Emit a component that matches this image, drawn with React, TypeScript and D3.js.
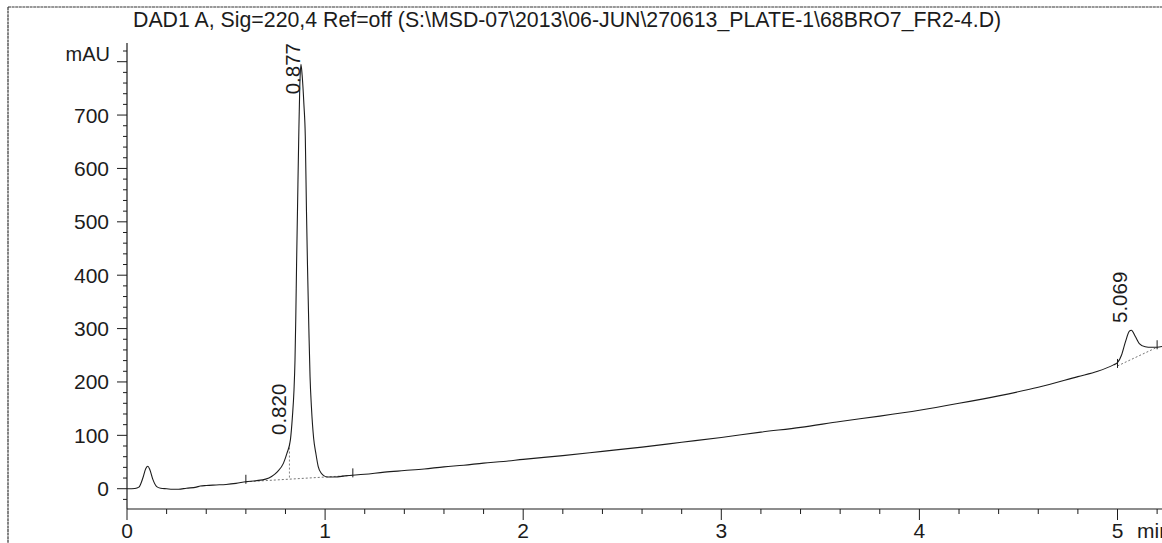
import React from "react";
import * as d3 from "d3";

const title = "DAD1 A, Sig=220,4 Ref=off (S:\\MSD-07\\2013\\06-JUN\\270613_PLATE-1\\68BRO7_FR2-4.D)";

const times = [
  0.0, 0.04, 0.06, 0.08, 0.095, 0.105, 0.115, 0.13, 0.15, 0.17, 0.2, 0.23, 0.26, 0.3, 0.35, 0.37, 0.4, 0.45,
  0.5, 0.55, 0.6, 0.65, 0.7, 0.73, 0.76, 0.79, 0.808, 0.825, 0.835, 0.843, 0.848, 0.852, 0.856, 0.861, 0.867,
  0.872, 0.878, 0.884, 0.893, 0.9, 0.906, 0.911, 0.918, 0.924, 0.931, 0.942, 0.953, 0.965, 0.981, 0.995, 1.01,
  1.05, 1.1, 1.2, 1.3, 1.4, 1.5, 1.6, 1.7, 1.8, 1.9, 2.0, 2.2, 2.4, 2.6, 2.8, 3.0, 3.2, 3.4, 3.6, 3.8, 4.0,
  4.2, 4.4, 4.6, 4.8, 4.9, 4.98, 5.0, 5.02, 5.04, 5.06, 5.07, 5.09, 5.11, 5.14, 5.17, 5.2, 5.23,
];
const signal = [
  0, 0.5, 3, 20, 38, 42, 36, 18, 4, 1, 0, -1, -1, 1, 3, 5, 6, 7,
  8, 10, 13, 15, 18, 23, 32, 48, 67, 92, 135, 185, 240, 320, 420, 530, 660,
  750, 795, 775, 720, 660, 520, 420, 300, 210, 153, 95, 67, 42, 29, 24, 22,
  22, 24, 27, 31, 34, 37, 41, 44, 48, 51, 55, 62, 70, 78, 87, 96, 106, 115, 126, 136, 147,
  160, 174, 190, 210, 220, 232, 236, 250, 275, 295, 297, 285, 272, 266, 265, 265, 267,
];

const peakLabels = ["0.877", "0.820", "5.069"];
const peakTimes = [0.877, 0.82, 5.069];

// integration baselines
const baseStartT = [0.6, 5.0];
const baseStartV = [13, 230];
const baseEndT = [1.14, 5.2];
const baseEndV = [25, 265];
const dropT = [0.82];

const xMajor = [0, 1, 2, 3, 4, 5];
const yMajor = [0, 100, 200, 300, 400, 500, 600, 700];

export default function App() {
  const W = 1162;
  const H = 543;
  const x = d3.scaleLinear().domain([0, 5.23]).range([127, 127 + 5.23 * 198.1]);
  const y = d3.scaleLinear().domain([-38, 835]).range([509, 43]);
  const font = "'Liberation Sans', Arial, sans-serif";
  const pts: [number, number][] = times.map((t, i) => [t, signal[i]]);
  const line = d3
    .line<[number, number]>()
    .x((d) => x(d[0]))
    .y((d) => y(d[1]))
    .curve(d3.curveMonotoneX);
  const interp = (t: number) => {
    const i = d3.bisector((d: number) => d).left(times, t);
    if (i <= 0) return signal[0];
    if (i >= times.length) return signal[signal.length - 1];
    const t0 = times[i - 1], t1 = times[i];
    return signal[i - 1] + ((signal[i] - signal[i - 1]) * (t - t0)) / (t1 - t0);
  };

  const xMinor = d3.range(0, 5.21, 0.2).filter((v) => Math.abs(v - Math.round(v)) > 0.01);
  const yMinor = d3.range(-20, 830, 20).filter((v) => v % 100 !== 0);
  const ink = "#1c1c1c";

  const labelPos = [
    { anchor: "end", xx: x(0.877) - 1, yy: 43 },
    { anchor: "start", xx: x(0.82) - 3, yy: 435 },
    { anchor: "start", xx: x(5.069) - 4, yy: 323 },
  ];

  return (
    <svg
      width={W}
      height={H}
      style={{ position: "absolute", left: 0, top: 0, background: "#fff" }}
      fontFamily={font}
    >
      {/* frame */}
      <line x1={8} y1={7} x2={W} y2={7} stroke="#333" strokeWidth={1.2} strokeDasharray="3 0.6" />
      <line x1={8} y1={7} x2={8} y2={H} stroke="#333" strokeWidth={1.2} strokeDasharray="3 0.6" />
      <text x={133} y={27} fontSize={21.3} fill={ink}>
        {title}
      </text>

      {/* y axis */}
      <line x1={127} y1={43} x2={127} y2={509} stroke={ink} strokeWidth={1.2} />
      {[...yMajor, 800].map((v) => (
        <line key={"ym" + v} x1={117} x2={127} y1={y(v)} y2={y(v)} stroke={ink} strokeWidth={1} />
      ))}
      {yMinor.map((v) => (
        <line key={"yn" + v} x1={123} x2={127} y1={y(v)} y2={y(v)} stroke={ink} strokeWidth={1} />
      ))}
      {yMajor.map((v) => (
        <text key={"yl" + v} x={109} y={y(v) + 7.5} fontSize={21} textAnchor="end" fill={ink}>
          {v}
        </text>
      ))}
      <text x={110} y={61} fontSize={20} textAnchor="end" fill={ink}>
        mAU
      </text>

      {/* x axis */}
      <line x1={127} y1={509} x2={W} y2={509} stroke={ink} strokeWidth={1.2} />
      {xMajor.map((v) => (
        <line key={"xm" + v} x1={x(v)} x2={x(v)} y1={509} y2={520} stroke={ink} strokeWidth={1} />
      ))}
      {xMinor.map((v) => (
        <line key={"xn" + v} x1={x(v)} x2={x(v)} y1={509} y2={514} stroke={ink} strokeWidth={1} />
      ))}
      {xMajor.map((v) => (
        <text key={"xl" + v} x={x(v)} y={538} fontSize={21} textAnchor="middle" fill={ink}>
          {v}
        </text>
      ))}
      <text x={1137} y={538} fontSize={21} fill={ink}>
        min
      </text>

      {/* integration baselines */}
      {baseStartT.map((t0, i) => (
        <g key={"b" + i}>
          <line
            x1={x(t0)}
            y1={y(baseStartV[i])}
            x2={x(baseEndT[i])}
            y2={y(baseEndV[i])}
            stroke="#666"
            strokeWidth={0.9}
            strokeDasharray="2 2"
          />
          <line x1={x(t0)} x2={x(t0)} y1={y(baseStartV[i]) - 7} y2={y(baseStartV[i]) + 2} stroke={ink} strokeWidth={1} />
          <line
            x1={x(baseEndT[i])}
            x2={x(baseEndT[i])}
            y1={y(baseEndV[i]) - 7}
            y2={y(baseEndV[i]) + 2}
            stroke={ink}
            strokeWidth={1}
          />
        </g>
      ))}
      {dropT.map((t) => {
        const bv = baseStartV[0] + ((baseEndV[0] - baseStartV[0]) * (t - baseStartT[0])) / (baseEndT[0] - baseStartT[0]);
        return (
          <line
            key={"d" + t}
            x1={x(t)}
            x2={x(t)}
            y1={y(interp(t))}
            y2={y(bv)}
            stroke="#777"
            strokeWidth={0.9}
            strokeDasharray="2 2"
          />
        );
      })}

      {/* signal */}
      <path d={line(pts) || ""} fill="none" stroke={ink} strokeWidth={1.1} />

      {/* peak labels */}
      {peakLabels.map((lab, i) => {
        const p = labelPos[i];
        return (
          <text
            key={lab}
            transform={`translate(${p.xx},${p.yy}) rotate(-90)`}
            fontSize={20.5}
            textAnchor={p.anchor as any}
            fill={ink}
            data-t={peakTimes[i]}
          >
            {lab}
          </text>
        );
      })}
    </svg>
  );
}
